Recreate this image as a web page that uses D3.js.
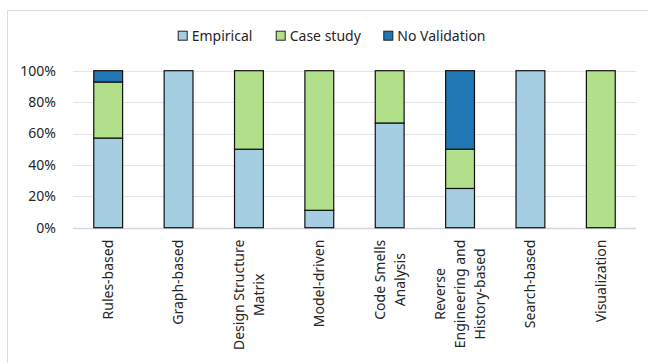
<!DOCTYPE html>
<html>
<head>
<meta charset="utf-8">
<script src="https://cdn.jsdelivr.net/npm/d3@7"></script>
<style>
  html, body { margin: 0; padding: 0; background: #fff; }
  svg { display: block; font-family: "Noto Sans", "Open Sans", sans-serif; }
</style>
</head>
<body>
<svg id="chart" width="648" height="363"></svg>
<script>
// Validation approach share per technique category (percent)
const categories = [
  "Rules-based",
  "Graph-based",
  "Design Structure\nMatrix",
  "Model-driven",
  "Code Smells\nAnalysis",
  "Reverse\nEngineering and\nHistory-based",
  "Search-based",
  "Visualization"
];
const seriesNames = ["Empirical", "Case study", "No Validation"];
const empirical    = [57.1, 100, 50, 11.1, 66.7, 25, 100, 0];
const caseStudy    = [35.7,   0, 50, 88.9, 33.3, 25,   0, 100];
const noValidation = [ 7.2,   0,  0,    0,    0, 50,   0, 0];
const yTicks = [0, 20, 40, 60, 80, 100];
const colors = ["#A6CEE3", "#B2DF8A", "#1F78B4"];

const svg = d3.select("#chart");
const W = 648, H = 363;
const plot = { left: 73, right: 636, top: 70.7, bottom: 227.7 };

// outer chart frame
svg.append("rect")
  .attr("x", 7.5).attr("y", 10.5)
  .attr("width", W + 10).attr("height", H + 10)
  .attr("fill", "none").attr("stroke", "#D9DDE4").attr("stroke-width", 1);

const x = d3.scaleBand().domain(categories).range([plot.left, plot.right]).paddingInner(0.59).paddingOuter(0.295);
const y = d3.scaleLinear().domain([0, 100]).range([plot.bottom, plot.top]);

// gridlines
svg.append("g").selectAll("line").data(yTicks).join("line")
  .attr("x1", plot.left).attr("x2", plot.right)
  .attr("y1", d => Math.round(y(d)) + 0.5).attr("y2", d => Math.round(y(d)) + 0.5)
  .attr("stroke", d => d === 0 ? "#D4D7DD" : "#E2E5EB").attr("stroke-width", d => d === 0 ? 1.5 : 1);

// y axis labels
const yAxis = d3.axisLeft(y).tickValues(yTicks).tickFormat(d => d + "%").tickSize(0).tickPadding(17);
const yg = svg.append("g").attr("transform", `translate(${plot.left},0)`).call(yAxis);
yg.select(".domain").remove();
yg.selectAll("text").attr("font-size", 14).attr("fill", "#262626").attr("font-family", "Noto Sans, Open Sans, sans-serif");

// stacked bars
const rows = categories.map((c, i) => ({
  cat: c, "Empirical": empirical[i], "Case study": caseStudy[i], "No Validation": noValidation[i]
}));
const stacked = d3.stack().keys(seriesNames)(rows);
svg.append("g").selectAll("g").data(stacked).join("g")
  .attr("fill", (d, i) => colors[i])
  .selectAll("rect").data(d => d.filter(s => s[1] - s[0] > 0)).join("rect")
  .attr("x", d => x(d.data.cat))
  .attr("width", x.bandwidth())
  .attr("y", d => y(d[1]))
  .attr("height", d => y(d[0]) - y(d[1]))
  .attr("stroke", "#111").attr("stroke-width", 1.2);

// category labels, rotated, multi-line centred
const lineH = 20, gap = 12;
const lab = svg.append("g").selectAll("g").data(categories).join("g")
  .attr("transform", d => `translate(${x(d) + x.bandwidth() / 2},${plot.bottom + gap}) rotate(-90)`);
lab.each(function (d) {
  const g = d3.select(this);
  const lines = d.split("\n");
  const texts = lines.map((ln, i) => g.append("text")
    .attr("font-size", 14).attr("fill", "#262626")
    .attr("text-anchor", "middle")
    .attr("dy", "0.35em")
    .attr("y", (i - (lines.length - 1) / 2) * lineH)
    .text(ln));
  const maxLen = d3.max(texts, t => t.node().getComputedTextLength());
  texts.forEach(t => t.attr("x", -maxLen / 2));
});

// legend
const legendItems = [
  { name: "Empirical", sx: 177.7 },
  { name: "Case study", sx: 275.7 },
  { name: "No Validation", sx: 383.3 }
];
const lg = svg.append("g").selectAll("g").data(legendItems).join("g")
  .attr("transform", d => `translate(${d.sx},35.7)`);
lg.append("rect").attr("x", 0.5).attr("y", -4.5).attr("width", 9).attr("height", 9)
  .attr("fill", (d, i) => colors[i]).attr("stroke", "#222").attr("stroke-width", 1);
lg.append("text").attr("x", 14).attr("dy", "0.35em").attr("font-size", 14).attr("fill", "#262626")
  .text(d => d.name);
</script>
</body>
</html>
